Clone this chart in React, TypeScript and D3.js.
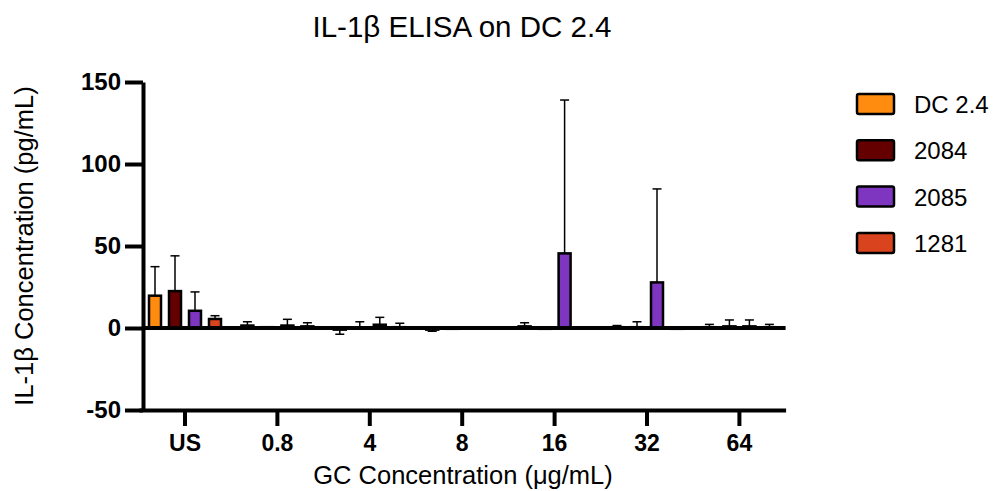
import React, { useEffect, useRef } from 'react';
import * as d3 from 'd3';

const groups = ['US', '0.8', '4', '8', '16', '32', '64'];
const series = ['DC 2.4', '2084', '2085', '1281'];
const colors = ['#FF8C0F', '#650000', '#7E35BF', '#D9441F'];

// mean values per series, one per group
const dc24 = [19.7, 1.5, -1, -1, 1, 0.5, 0.5];
const s2084 = [22.5, 0.5, 0, -0.5, -0.5, 0.5, 1];
const s2085 = [10.5, 1.5, 2, 0, 45.5, 27.8, 1];
const s1281 = [5.5, 1, 0.5, -0.3, 0, -0.5, 0.5];

// SD per series
const dc24Err = [17.7, 2.3, 2.8, 1, 2.2, 1, 1.7];
const s2084Err = [21.5, 0, 3.8, 0, 0, 3.3, 3.9];
const s2085Err = [11.5, 3.8, 4.5, 0, 93.5, 57, 3.9];
const s1281Err = [2, 2.2, 2.4, 0, 0, 0, 1.7];

const yTicks = [-50, 0, 50, 100, 150];

const FONT = "Arial, 'Liberation Sans', sans-serif";

const App = () => {
  const ref = useRef<SVGSVGElement>(null);

  useEffect(() => {
    const values = [dc24, s2084, s2085, s1281];
    const errors = [dc24Err, s2084Err, s2085Err, s1281Err];
    const svg = d3.select(ref.current);
    svg.selectAll('*').remove();

    const x0 = d3.scaleBand().domain(groups).range([138.8, 785.6]);
    const x1 = d3.scaleBand().domain(series).range([0, 80]).paddingInner(0.4).paddingOuter(0.2);
    const y = d3.scaleLinear().domain([-50, 150]).range([410, 82]);
    const offset = (x0.bandwidth() - 80) / 2;

    // title
    svg.append('text')
      .attr('x', 462).attr('y', 37)
      .attr('text-anchor', 'middle')
      .style('font-family', FONT).style('font-size', '29.5px')
      .text('IL-1β ELISA on DC 2.4');

    // bars
    const data = groups.flatMap((g, gi) =>
      series.map((s, si) => ({ g, s, si, v: values[si][gi], e: errors[si][gi] })));

    const bars = svg.append('g');
    bars.selectAll('rect')
      .data(data)
      .enter()
      .append('rect')
      .attr('x', d => x0(d.g)! + offset + x1(d.s)!)
      .attr('width', x1.bandwidth())
      .attr('y', d => y(Math.max(0, d.v)))
      .attr('height', d => Math.abs(y(d.v) - y(0)))
      .attr('fill', d => colors[d.si])
      .attr('stroke', '#000')
      .attr('stroke-width', 2.5);

    // error bars (one-sided, GraphPad style)
    const err = svg.append('g').attr('stroke', '#000').attr('stroke-width', 1.5);
    data.filter(d => d.e > 0).forEach(d => {
      const cx = x0(d.g)! + offset + x1(d.s)! + x1.bandwidth() / 2;
      const end = d.v >= 0 ? d.v + d.e : d.v - d.e;
      err.append('line').attr('x1', cx).attr('x2', cx).attr('y1', y(d.v)).attr('y2', y(end));
      err.append('line').attr('x1', cx - 4.5).attr('x2', cx + 4.5).attr('y1', y(end)).attr('y2', y(end));
    });

    // zero line
    svg.append('line')
      .attr('x1', 143).attr('x2', 785.6)
      .attr('y1', y(0)).attr('y2', y(0))
      .attr('stroke', '#000').attr('stroke-width', 4);

    // y axis
    const yAxis = svg.append('g')
      .attr('transform', 'translate(143,0)')
      .call(d3.axisLeft(y).tickValues(yTicks).tickSize(18).tickSizeOuter(0).tickPadding(4).tickFormat(d => String(d)));
    yAxis.select('.domain').attr('stroke-width', 4);
    yAxis.selectAll('.tick line').attr('stroke-width', 4);
    yAxis.selectAll('.tick text')
      .style('font-family', FONT).style('font-size', '24px').style('font-weight', 'bold')
      .attr('fill', '#000');

    // bottom x axis
    const xAxis = svg.append('g')
      .attr('transform', `translate(0,${y(-50)})`)
      .call(d3.axisBottom(x0).tickSize(16).tickSizeOuter(0).tickPadding(9));
    xAxis.select('.domain').attr('stroke-width', 4);
    xAxis.selectAll('.tick line').attr('stroke-width', 4);
    xAxis.selectAll('.tick text')
      .style('font-family', FONT).style('font-size', '23px').style('font-weight', 'bold')
      .attr('fill', '#000');

    // axis titles
    svg.append('text')
      .attr('x', 463).attr('y', 484)
      .attr('text-anchor', 'middle')
      .style('font-family', FONT).style('font-size', '25.5px')
      .text('GC Concentration (μg/mL)');

    svg.append('text')
      .attr('transform', 'translate(33,246) rotate(-90)')
      .attr('text-anchor', 'middle')
      .style('font-family', FONT).style('font-size', '25.5px')
      .text('IL-1β Concentration (pg/mL)');

    // legend
    const legend = svg.append('g');
    series.forEach((s, i) => {
      const row = legend.append('g').attr('transform', `translate(857,${94 + i * 46.3})`);
      row.append('rect')
        .attr('width', 37).attr('height', 20).attr('rx', 2)
        .attr('fill', colors[i]).attr('stroke', '#000').attr('stroke-width', 2.5);
      row.append('text')
        .attr('x', 57).attr('y', 19)
        .style('font-family', FONT).style('font-size', '24px')
        .text(s);
    });
  }, []);

  return (
    <svg ref={ref} width={997} height={491}
      style={{ position: 'absolute', left: 0, top: 0, background: '#fff' }} />
  );
};

export default App;
